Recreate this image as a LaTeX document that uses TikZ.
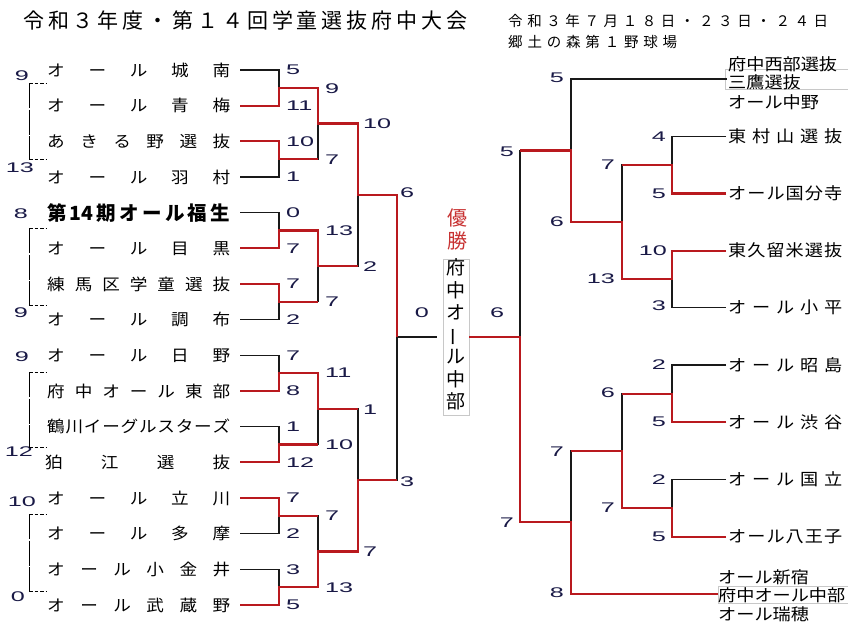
\documentclass[tikz,border=0pt]{standalone}
\usepackage{fontspec}
\usepackage{graphicx}
\setmainfont{Liberation Sans}
\newfontfamily\jp{Noto Sans CJK JP}
\newfontfamily\jpw{Noto Sans CJK JP}[FakeStretch=1.1]
\newfontfamily\numf{Liberation Sans}[FakeStretch=1.8]
\definecolor{wred}{RGB}{185,25,30}
\definecolor{navy}{RGB}{25,25,70}
\definecolor{boxgray}{RGB}{200,200,200}
\definecolor{yred}{RGB}{200,50,50}

\ExplSyntaxOn
\tl_new:N \l_spread_tl
\bool_new:N \l_spread_bool
\NewDocumentCommand\spreadbox{m m}{
  \tl_set:No \l_spread_tl {#2}
  \makebox[#1][l]{
    \bool_set_false:N \l_spread_bool
    \tl_map_inline:Nn \l_spread_tl { \bool_if:NT \l_spread_bool {\hfill} ##1 \bool_set_true:N \l_spread_bool }
  }
}
\ExplSyntaxOff

\tikzset{
  bk/.style={line width=1.3pt, black!90},
  rd/.style={line width=2.2pt, wred},
  seedv/.style={line width=0.9pt, black, dash pattern=on 25pt off 1.5pt},
  seedh/.style={line width=0.9pt, black, dash pattern=on 3.5pt off 2pt},
  lteam/.style={anchor=west, inner sep=0pt, font=\jpw\fontsize{16}{16}\selectfont},
  rteam/.style={anchor=west, inner sep=0pt, font=\jpw\fontsize{16.5}{16.5}\selectfont},
  lnum/.style={anchor=west, inner sep=0pt, text=navy, font=\numf\fontsize{14}{14}\selectfont},
  rnum/.style={anchor=east, inner sep=0pt, text=navy, font=\numf\fontsize{14}{14}\selectfont},
  cnum/.style={anchor=center, inner sep=0pt, text=navy, font=\numf\fontsize{14}{14}\selectfont},
}

\begin{document}
\begin{tikzpicture}[x=1pt,y=-1pt]
\fill[white] (0,0) rectangle (850,638);
\useasboundingbox (0,0) rectangle (850,638);

% titles
\node[anchor=west, inner sep=0pt, font=\jp\fontsize{21}{21}\selectfont] (title) at (23,20)
  {\spreadbox{444pt}{令和３年度・第１４回学童選抜府中大会}};
\node[anchor=west, inner sep=0pt, font=\jp\fontsize{14.5}{14.5}\selectfont] (date) at (508,21)
  {\spreadbox{320pt}{令和３年７月１８日・２３日・２４日}};
\node[anchor=west, inner sep=0pt, font=\jp\fontsize{14.5}{14.5}\selectfont] (place) at (508,42)
  {\spreadbox{169pt}{郷土の森第１野球場}};

% left teams
\node[lteam] (n0) at (47,70) {\spreadbox{183pt}{オール城南}};
\node[lteam] (n1) at (47,105.67) {\spreadbox{183pt}{オール青梅}};
\node[lteam] (n2) at (47,141.33) {\spreadbox{183pt}{あきる野選抜}};
\node[lteam] (n3) at (47,177) {\spreadbox{183pt}{オール羽村}};
\node[lteam, font=\jp\bfseries\fontsize{19.5}{19.5}\selectfont] (n4) at (47,212.67) {\spreadbox{183pt}{第{14}期オール福生}};
\node[lteam] (n5) at (47,248.33) {\spreadbox{183pt}{オール目黒}};
\node[lteam] (n6) at (47,284) {\spreadbox{183pt}{練馬区学童選抜}};
\node[lteam] (n7) at (47,319.67) {\spreadbox{183pt}{オール調布}};
\node[lteam] (n8) at (47,355.33) {\spreadbox{183pt}{オール日野}};
\node[lteam] (n9) at (47,391) {\spreadbox{183pt}{府中オール東部}};
\node[lteam] (n10) at (47,426.67) {\spreadbox{183pt}{鶴川イーグルスターズ}};
\node[lteam] (n11) at (45,462.33) {\spreadbox{185pt}{狛江選抜}};
\node[lteam] (n12) at (47,498) {\spreadbox{183pt}{オール立川}};
\node[lteam] (n13) at (47,533.67) {\spreadbox{183pt}{オール多摩}};
\node[lteam] (n14) at (47,569.33) {\spreadbox{183pt}{オール小金井}};
\node[lteam] (n15) at (47,605) {\spreadbox{183pt}{オール武蔵野}};

\foreach \i in {0,...,15} { \coordinate (t\i) at (240, {70+35.667*\i}); }

% left junctions
\coordinate (a0) at (279,87.83);
\coordinate (a1) at (279,159.17);
\coordinate (a2) at (279,230.5);
\coordinate (a3) at (279,301.83);
\coordinate (a4) at (279,373.17);
\coordinate (a5) at (279,444.5);
\coordinate (a6) at (279,515.83);
\coordinate (a7) at (279,587.17);
\coordinate (b0) at (318,123.5);
\coordinate (b1) at (318,266.17);
\coordinate (b2) at (318,408.83);
\coordinate (b3) at (318,551.5);
\coordinate (c0) at (358,194.83);
\coordinate (c1) at (358,480.17);
\coordinate (d0) at (397,337);

% champion
\node[draw=boxgray, line width=0.8pt, minimum width=26pt, minimum height=153pt, inner sep=0pt,
  font=\jp\fontsize{19}{22}\selectfont] (champ) at (456,337)
  {\begin{tabular}{@{}c@{}}府\\中\\オ\\\rotatebox[origin=c]{90}{ー}\\ル\\中\\部\end{tabular}};
\node[inner sep=0pt, text=yred, font=\jp\fontsize{20}{21}\selectfont] (yusho) at (457,232)
  {\begin{tabular}{@{}c@{}}優\\勝\end{tabular}};
\coordinate (fl) at ([xshift=-6pt]champ.west);

% left bracket black
\draw[bk] (t0) -| (a0) |- (t1);
\draw[bk] (t2) -| (a1) |- (t3);
\draw[bk] (t4) -| (a2) |- (t5);
\draw[bk] (t6) -| (a3) |- (t7);
\draw[bk] (t8) -| (a4) |- (t9);
\draw[bk] (t10) -| (a5) |- (t11);
\draw[bk] (t12) -| (a6) |- (t13);
\draw[bk] (t14) -| (a7) |- (t15);
\draw[bk] (a0) -| (b0) |- (a1);
\draw[bk] (a2) -| (b1) |- (a3);
\draw[bk] (a4) -| (b2) |- (a5);
\draw[bk] (a6) -| (b3) |- (a7);
\draw[bk] (b0) -| (c0) |- (b1);
\draw[bk] (b2) -| (c1) |- (b3);
\draw[bk] (c0) -| (d0) |- (c1);
\draw[bk] (d0) -- (fl);

% left bracket red
\draw[rd] (t1) -| (a0) -| (b0) -| (c0) -| (d0);
\draw[rd] (t2) -| (a1) -- (a1 -| b0);
\draw[rd] (t5) -| (a2) -| (b1) -- (b1 -| c0);
\draw[rd] (t6) -| (a3) -- (a3 -| b1);
\draw[rd] (t9) -| (a4) -| (b2) -- (b2 -| c1);
\draw[rd] (t11) -| (a5) -- (a5 -| b2);
\draw[rd] (t12) -| (a6) -- (a6 -| b3);
\draw[rd] (t15) -| (a7) -| (b3) -| (c1) -- (c1 -| d0);

% left scores
\foreach \i/\s in {0/5,1/11,2/10,3/1,4/0,5/7,6/7,7/2,8/7,9/8,10/1,11/12,12/7,13/2,14/3,15/5}
  { \node[lnum] (ls\i) at (286, {70+35.667*\i}) {\s}; }
\node[lnum] (la0) at (325,88.5) {9};
\node[lnum] (la1) at (325,159.5) {7};
\node[lnum] (la2) at (325,231) {13};
\node[lnum] (la3) at (325,302) {7};
\node[lnum] (la4) at (325,373) {11};
\node[lnum] (la5) at (325,445) {10};
\node[lnum] (la6) at (325,516) {7};
\node[lnum] (la7) at (325,587.5) {13};
\node[lnum] (lb0) at (363,123.5) {10};
\node[lnum] (lb1) at (363,266.5) {2};
\node[lnum] (lb2) at (363,409.5) {1};
\node[lnum] (lb3) at (363,551.5) {7};
\node[lnum] (lc0) at (400,193) {6};
\node[lnum] (lc1) at (400,482) {3};
\node[cnum] (fl0) at (422,313) {0};
\node[cnum] (fr0) at (497,313) {6};

% seeds
\node[cnum] (sd1a) at (22,76) {9};
\node[cnum] (sd1b) at (20,168) {13};
\node[cnum] (sd2a) at (21,214) {8};
\node[cnum] (sd2b) at (21,313) {9};
\node[cnum] (sd3a) at (22,357) {9};
\node[cnum] (sd3b) at (19,452) {12};
\node[cnum] (sd4a) at (22,502) {10};
\node[cnum] (sd4b) at (18,597) {0};
\foreach \k/\ya/\yb in {1/83/159, 2/228/305, 3/372/447, 4/514/591} {
  \coordinate (sv\k a) at (29,\ya);
  \coordinate (sv\k b) at (29,\yb);
  \coordinate (sh\k a) at (46,\ya);
  \coordinate (sh\k b) at (46,\yb);
  \draw[seedv] (sv\k a) -- (sv\k b);
  \draw[seedh] (sv\k a) -- (sh\k a);
  \draw[seedh] (sv\k b) -- (sh\k b);
}

% right teams
\node[rteam] (m1) at (728,136.2) {\spreadbox{114pt}{東村山選抜}};
\node[rteam] (m2) at (728,193.4) {\spreadbox{114pt}{オール国分寺}};
\node[rteam] (m3) at (728,250.6) {\spreadbox{114pt}{東久留米選抜}};
\node[rteam] (m4) at (728,307.8) {\spreadbox{114pt}{オール小平}};
\node[rteam] (m5) at (728,365) {\spreadbox{114pt}{オール昭島}};
\node[rteam] (m6) at (728,422.2) {\spreadbox{114pt}{オール渋谷}};
\node[rteam] (m7) at (728,479.4) {\spreadbox{114pt}{オール国立}};
\node[rteam] (m8) at (728,536.6) {\spreadbox{114pt}{オール八王子}};
\foreach \j in {1,...,8} { \coordinate (u\j) at ([xshift=-2pt]m\j.west); }

% right groups
\draw[boxgray, line width=0.7pt] (848,69) -- (725,69) -- (725,89) -- (848,89);
\node[rteam] (g0a) at (728,64) {府中西部選抜};
\node[rteam] (g0b) at (728,82.5) {三鷹選抜};
\node[rteam] (g0c) at (728,102) {オール中野};
\draw[boxgray, line width=0.7pt] (848,586) -- (718,586) -- (718,603) -- (848,603);
\node[rteam] (g9a) at (718,577) {オール新宿};
\node[rteam] (g9b) at (718,595) {府中オール中部};
\node[rteam] (g9c) at (718,614) {オール瑞穂};
\coordinate (u0) at (727,79);
\coordinate (u9) at (718,593.8);

% right junctions
\coordinate (p0) at (672,164.8);
\coordinate (p1) at (672,279.2);
\coordinate (p2) at (672,393.6);
\coordinate (p3) at (672,508);
\coordinate (q0) at (622,222);
\coordinate (q1) at (622,450.8);
\coordinate (r0) at (571,150.5);
\coordinate (r1) at (571,522.3);
\coordinate (s0) at (520,337);

% right bracket black
\draw[bk] (u1) -| (p0) |- (u2);
\draw[bk] (u3) -| (p1) |- (u4);
\draw[bk] (u5) -| (p2) |- (u6);
\draw[bk] (u7) -| (p3) |- (u8);
\draw[bk] (p0) -| (q0) |- (p1);
\draw[bk] (p2) -| (q1) |- (p3);
\draw[bk] (u0) -| (r0) |- (q0);
\draw[bk] (q1) -| (r1) |- (u9);
\draw[bk] (r0) -| (s0) |- (r1);

% right bracket red
\draw[rd] (u2) -| (p0) -- (p0 -| q0);
\draw[rd] (u3) -| (p1) -| (q0) -| (r0) -- (r0 -| s0);
\draw[rd] (u6) -| (p2) -- (p2 -| q1);
\draw[rd] (u8) -| (p3) -| (q1) -- (q1 -| r1);
\draw[rd] (u9) -| (r1) -| (s0) -- (champ.east);

% right scores
\node[rnum] (rs1) at (666,136.2) {4};
\node[rnum] (rs2) at (666,193.4) {5};
\node[rnum] (rs3) at (667,250.6) {10};
\node[rnum] (rs4) at (666,306) {3};
\node[rnum] (rs5) at (666,365) {2};
\node[rnum] (rs6) at (666,422.2) {5};
\node[rnum] (rs7) at (666,479.4) {2};
\node[rnum] (rs8) at (666,536.6) {5};
\node[rnum] (rp0) at (615,165) {7};
\node[rnum] (rp1) at (615,278.5) {13};
\node[rnum] (rp2) at (615,393) {6};
\node[rnum] (rp3) at (615,508) {7};
\node[rnum] (rq0) at (564,78) {5};
\node[rnum] (rq1) at (564,222) {6};
\node[rnum] (rq2) at (564,452) {7};
\node[rnum] (rq3) at (564,593) {8};
\node[rnum] (rr0) at (514,152) {5};
\node[rnum] (rr1) at (514,523) {7};
\end{tikzpicture}
\end{document}
